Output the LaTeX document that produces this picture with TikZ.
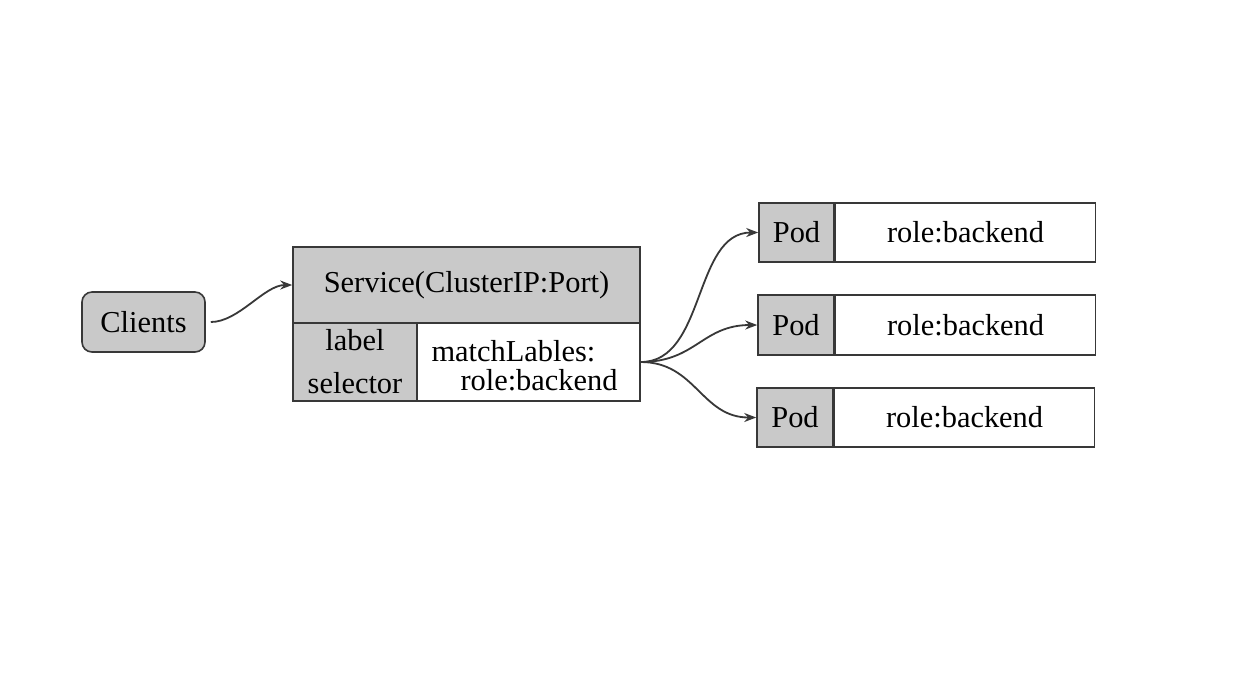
\documentclass[tikz,border=0pt]{standalone}
\usepackage{fontspec}
\setmainfont{Liberation Serif}
\usetikzlibrary{arrows.meta}
\definecolor{boxgray}{gray}{0.79}
\definecolor{edgec}{gray}{0.22}
\begin{document}
\begin{tikzpicture}[x=0.5pt,y=-0.5pt,
  box/.style={draw=edgec, line width=0.8pt, inner sep=0pt, font=\fontsize{15.2}{21.5}\selectfont},
  shaded/.style={box, fill=boxgray},
  plain/.style={box, fill=white},
  conn/.style={draw=edgec, line width=0.9pt, -{Stealth[length=6pt,width=4.5pt]}}]
\useasboundingbox[fill=white] (0,0) rectangle (1235,693);
% Clients
\node[shaded, rounded corners=5pt, minimum width=61.5pt, minimum height=30pt] (clients) at (143.5,322) {Clients};
% Service
\node[shaded, minimum width=173.5pt, minimum height=38pt] (svc) at (466.5,285) {Service(ClusterIP:Port)};
\node[shaded, minimum width=62pt, minimum height=39pt, align=center] (sel) at (355,362) {label\\selector};
\node[plain, minimum width=111.5pt, minimum height=39pt, text width=97pt, align=left] (match) at (528.5,362) {\raisebox{-2pt}[\height][\depth]{matchLables:}\\[-7pt]\hspace*{\fill}\raisebox{-2pt}[\height][\depth]{role:backend\hspace{4pt}}};
% Pods
\node[shaded, minimum width=37.5pt, minimum height=29.5pt] (pod1) at (796.5,232.5) {Pod};
\node[plain, minimum width=130pt, minimum height=29.5pt, anchor=west] (role1) at (pod1.east) {role:backend};
\node[shaded, minimum width=38pt, minimum height=30pt] (pod2) at (796,325) {Pod};
\node[plain, minimum width=130pt, minimum height=30pt, anchor=west] (role2) at (pod2.east) {role:backend};
\node[shaded, minimum width=38pt, minimum height=29.5pt] (pod3) at (795,417.5) {Pod};
\node[plain, minimum width=130pt, minimum height=29.5pt, anchor=west] (role3) at (pod3.east) {role:backend};
% Connectors
\coordinate (cstart) at ([xshift=2.5pt]clients.east);
\draw[conn] (cstart) .. controls +(28,0) and +(-28,0) .. (svc.west);
\draw[conn] (match.east) .. controls +(65,0) and +(-65,0) .. (pod1.west);
\draw[conn] (match.east) .. controls +(55,0) and +(-55,0) .. (pod2.west);
\draw[conn] (match.east) .. controls +(55,0) and +(-55,0) .. (pod3.west);
\end{tikzpicture}
\end{document}
